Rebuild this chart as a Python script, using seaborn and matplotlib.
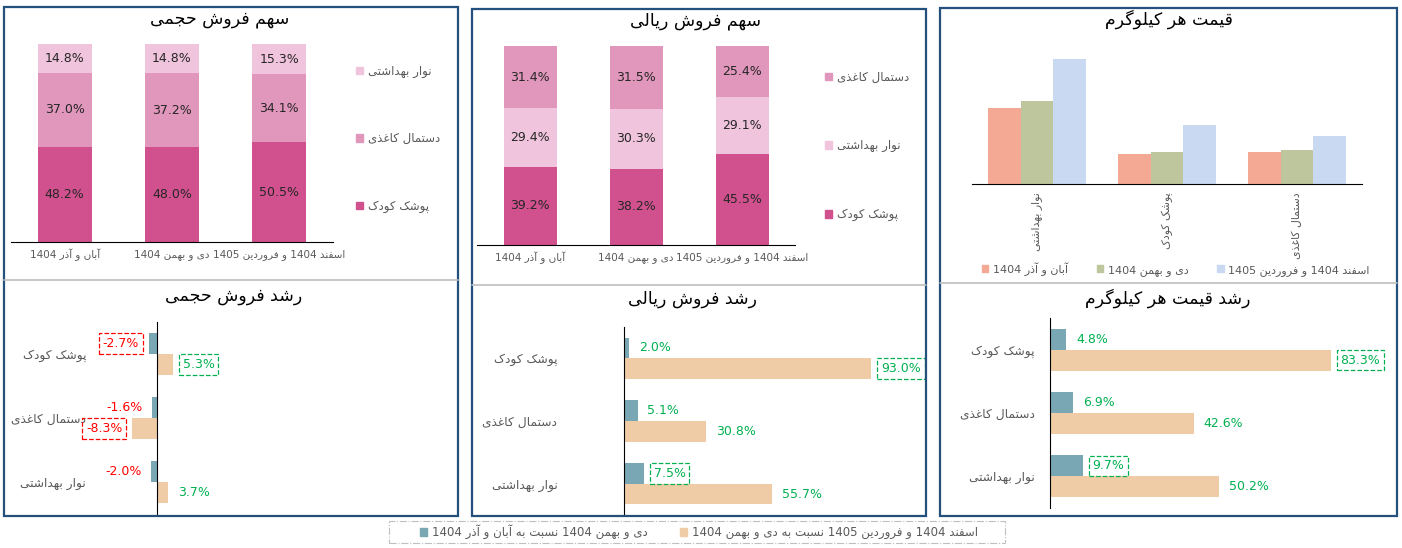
"""Sales dashboard: share, price and growth charts for three hygiene products."""

import re

import matplotlib

matplotlib.use("Agg")

import matplotlib.pyplot as plt
import pandas as pd
import seaborn as sns
from matplotlib.lines import Line2D
from matplotlib.patches import Patch, Rectangle

W, H = 1402, 548

PERIODS = ["آبان و آذر 1404", "دی و بهمن 1404", "اسفند 1404 و فروردین 1405"]
PRODUCTS = ["پوشک کودک", "دستمال کاغذی", "نوار بهداشتی"]
PRICE_PRODUCTS = ["نوار بهداشتی", "پوشک کودک", "دستمال کاغذی"]
GROWTH_SERIES = [
    "دی و بهمن 1404 نسبت به آبان و آذر 1404",
    "اسفند 1404 و فروردین 1405 نسبت به دی و بهمن 1404",
]

# سهم فروش حجمی (%)
vol_share_diaper = [48.2, 48.0, 50.5]
vol_share_tissue = [37.0, 37.2, 34.1]
vol_share_pad = [14.8, 14.8, 15.3]

# سهم فروش ریالی (%)
val_share_diaper = [39.2, 38.2, 45.5]
val_share_pad = [29.4, 30.3, 29.1]
val_share_tissue = [31.4, 31.5, 25.4]

# قیمت هر کیلوگرم (no scale shown, relative heights)
price_period1 = [76.0, 30.5, 31.6]
price_period2 = [83.4, 32.0, 33.8]
price_period3 = [125.3, 58.6, 48.2]

# رشد (%)
vol_growth_1 = [-2.7, -1.6, -2.0]
vol_growth_2 = [5.3, -8.3, 3.7]
val_growth_1 = [2.0, 5.1, 7.5]
val_growth_2 = [93.0, 30.8, 55.7]
price_growth_1 = [4.8, 6.9, 9.7]
price_growth_2 = [83.3, 42.6, 50.2]

# highlighted labels (dashed box)
vol_box_1 = [True, False, False]
vol_box_2 = [True, True, False]
val_box_1 = [False, False, True]
val_box_2 = [True, False, False]
price_box_1 = [False, False, True]
price_box_2 = [True, False, False]

PINK_DARK = "#D0518D"
PINK_MID = "#E196BB"
PINK_LIGHT = "#F0C4DC"
SALMON = "#F3A994"
OLIVE = "#BDC69C"
SKY = "#C9D9F1"
TEAL = "#79A7B3"
PEACH = "#EFCBA6"
GREEN = "#00B050"
RED = "#FF0000"
GRAY_TEXT = "#595959"
DARK_TEXT = "#262626"
FRAME_BLUE = "#24507E"
FRAME_GRAY = "#BFBFBF"

# --- minimal Persian shaping (matplotlib has no bidi / joining) ---
FOUR = {
    "ب": 0xFE8F, "ت": 0xFE95, "ث": 0xFE99, "ج": 0xFE9D, "ح": 0xFEA1, "خ": 0xFEA5,
    "س": 0xFEB1, "ش": 0xFEB5, "ص": 0xFEB9, "ض": 0xFEBD, "ط": 0xFEC1, "ظ": 0xFEC5,
    "ع": 0xFEC9, "غ": 0xFECD, "ف": 0xFED1, "ق": 0xFED5, "ل": 0xFEDD, "م": 0xFEE1,
    "ن": 0xFEE5, "ه": 0xFEE9, "ي": 0xFEF1, "پ": 0xFB56, "چ": 0xFB7A, "ک": 0xFB8E,
    "گ": 0xFB92, "ی": 0xFBFC,
}
TWO = {
    "ا": 0xFE8D, "آ": 0xFE81, "د": 0xFEA9, "ذ": 0xFEAB, "ر": 0xFEAD, "ز": 0xFEAF,
    "و": 0xFEED, "ژ": 0xFB8A,
}


def shape_run(run):
    out = []
    for i, ch in enumerate(run):
        base = FOUR.get(ch, TWO.get(ch))
        if base is None:
            out.append(ch)
            continue
        prev = run[i - 1] if i > 0 else ""
        nxt = run[i + 1] if i + 1 < len(run) else ""
        join_prev = prev in FOUR
        join_next = ch in FOUR and (nxt in FOUR or nxt in TWO)
        if join_prev and join_next:
            code = base + 3
        elif join_prev:
            code = base + 1
        elif join_next:
            code = base + 2
        else:
            code = base
        out.append(chr(code))
    return "".join(out)


def fa(text):
    runs = re.findall(r"[0-9.%\-]+|[^0-9.%\-]+", text)
    visual = [r if r[0].isdigit() else shape_run(r)[::-1] for r in runs]
    return "".join(visual[::-1])


def add_axes_px(fig, x0, y0, x1, y1):
    ax = fig.add_axes([x0 / W, 1 - y1 / H, (x1 - x0) / W, (y1 - y0) / H])
    ax.patch.set_visible(False)
    return ax


def boundary_ticks(axis, n):
    axis.set_ticks([i - 0.5 for i in range(n + 1)], minor=True)


def draw_share_chart(fig, box, layers, legend_xy, spacing):
    ax = add_axes_px(fig, *box)
    labels = [fa(p) for p in PERIODS]
    bottom = [0.0] * len(labels)
    handles = []
    for name, values, color in layers:
        sns.barplot(x=labels, y=values, bottom=bottom, color=color, width=0.5,
                    saturation=1, errorbar=None, linewidth=0, ax=ax)
        ax.bar_label(ax.containers[-1], labels=[f"{v:.1f}%" for v in values],
                     label_type="center", fontsize=9, color=DARK_TEXT)
        bottom = [b + v for b, v in zip(bottom, values)]
        handles.append(Patch(color=color, label=fa(name)))
    ax.set_ylim(0, 100)
    ax.set_xlim(-0.5, 2.5)
    ax.set_xlabel("")
    ax.set_ylabel("")
    ax.set_yticks([])
    for side in ["top", "right", "left"]:
        ax.spines[side].set_visible(False)
    ax.spines["bottom"].set_color("black")
    ax.spines["bottom"].set_linewidth(0.8)
    boundary_ticks(ax.xaxis, 3)
    ax.tick_params(axis="x", which="major", length=0, pad=5, labelsize=7.5, labelcolor=GRAY_TEXT)
    ax.tick_params(axis="x", which="minor", length=4, width=0.8, color="black")
    ax.legend(handles=handles[::-1], loc="upper left", bbox_to_anchor=legend_xy,
              bbox_transform=fig.transFigure, frameon=False, fontsize=8.5,
              labelcolor=GRAY_TEXT, handlelength=0.6, handleheight=0.6,
              handletextpad=0.4, labelspacing=spacing, borderpad=0)
    return ax


def draw_price_chart(fig, box):
    ax = add_axes_px(fig, *box)
    df = pd.DataFrame({
        "product": [fa(p) for p in PRICE_PRODUCTS] * 3,
        "price": price_period1 + price_period2 + price_period3,
        "period": [fa(p) for p in PERIODS for _ in PRICE_PRODUCTS],
    })
    sns.barplot(data=df, x="product", y="price", hue="period",
                palette=[SALMON, OLIVE, SKY], width=0.75, saturation=1,
                errorbar=None, legend=False, linewidth=0, ax=ax)
    ax.set_ylim(0, 140)
    ax.set_xlim(-0.5, 2.5)
    ax.set_xlabel("")
    ax.set_ylabel("")
    ax.set_yticks([])
    for side in ["top", "right", "left"]:
        ax.spines[side].set_visible(False)
    ax.spines["bottom"].set_color("black")
    ax.spines["bottom"].set_linewidth(0.8)
    boundary_ticks(ax.xaxis, 3)
    ax.tick_params(axis="x", which="major", length=0, pad=6, labelsize=7.8,
                   labelcolor=GRAY_TEXT, labelrotation=90)
    ax.tick_params(axis="x", which="minor", length=4, width=0.8, color="black")
    handles = [Patch(color=c, label=fa(p)) for c, p in zip([SALMON, OLIVE, SKY], PERIODS)]
    ax.legend(handles=handles, loc="center left", bbox_to_anchor=(976 / W, 1 - 269 / H),
              bbox_transform=fig.transFigure, ncol=3, frameon=False, fontsize=8,
              labelcolor=GRAY_TEXT, handlelength=0.6, handleheight=0.6,
              handletextpad=0.4, columnspacing=2.6, borderpad=0)
    return ax


def draw_growth_chart(fig, box, zero_px, px_per_pct, label_pad, s1, s2, b1, b2):
    x0, y0, x1, y1 = box
    ax = add_axes_px(fig, x0, y0, x1, y1)
    df = pd.DataFrame({
        "product": [fa(p) for p in PRODUCTS] * 2,
        "growth": s1 + s2,
        "series": [fa(GROWTH_SERIES[0])] * 3 + [fa(GROWTH_SERIES[1])] * 3,
    })
    sns.barplot(data=df, x="growth", y="product", hue="series", orient="h",
                palette=[TEAL, PEACH], width=0.66, saturation=1, errorbar=None,
                legend=False, linewidth=0, ax=ax)
    ax.set_xlim((x0 - zero_px) / px_per_pct, (x1 - zero_px) / px_per_pct)
    ax.set_ylim(2.5, -0.5)
    for cont, vals, flags in zip(ax.containers, [s1, s2], [b1, b2]):
        texts = ax.bar_label(cont, labels=[f"{v:.1f}%" for v in vals], padding=7, fontsize=9)
        for t, v, flag in zip(texts, vals, flags):
            color = GREEN if v >= 0 else RED
            t.set_color(color)
            if flag:
                t.set_bbox(dict(boxstyle="square,pad=0.3", fc="none", ec=color,
                                ls="--", lw=0.9))
    ax.set_xlabel("")
    ax.set_ylabel("")
    ax.set_xticks([])
    for side in ["top", "right", "bottom"]:
        ax.spines[side].set_visible(False)
    ax.spines["left"].set_position(("data", 0))
    ax.spines["left"].set_color("black")
    ax.spines["left"].set_linewidth(0.8)
    boundary_ticks(ax.yaxis, 3)
    ax.tick_params(axis="y", which="major", length=0, pad=label_pad, labelsize=8.8,
                   labelcolor=GRAY_TEXT)
    ax.tick_params(axis="y", which="minor", length=4, width=0.8, color="black")
    return ax


sns.set_style("white")
plt.rcParams["font.family"] = ["DejaVu Sans"]

fig = plt.figure(figsize=(W / 100, H / 100), dpi=100)

# panel frames
for x0, y0, x1, y1, ysep in [(4, 7, 458, 516, 280), (472, 9, 926, 516, 285),
                             (940, 8, 1397, 516, 283)]:
    fig.add_artist(Line2D([x0 / W, x1 / W], [1 - ysep / H] * 2, color=FRAME_GRAY, lw=1.2))
    fig.add_artist(Rectangle((x0 / W, 1 - y1 / H), (x1 - x0) / W, (y1 - y0) / H,
                             fill=False, ec=FRAME_BLUE, lw=1.6))

draw_share_chart(
    fig, (11, 44, 333, 242),
    [("پوشک کودک", vol_share_diaper, PINK_DARK),
     ("دستمال کاغذی", vol_share_tissue, PINK_MID),
     ("نوار بهداشتی", vol_share_pad, PINK_LIGHT)],
    (350 / W, 1 - 59 / H), 4.6,
)
draw_share_chart(
    fig, (477, 46, 795, 245),
    [("پوشک کودک", val_share_diaper, PINK_DARK),
     ("نوار بهداشتی", val_share_pad, PINK_LIGHT),
     ("دستمال کاغذی", val_share_tissue, PINK_MID)],
    (819 / W, 1 - 65 / H), 4.7,
)
draw_price_chart(fig, (972, 44, 1362, 184))

draw_growth_chart(fig, (100, 322, 445, 514), 157, 3.0, 51,
                  vol_growth_1, vol_growth_2, vol_box_1, vol_box_2)
draw_growth_chart(fig, (520, 327, 900, 515), 624, 2.66, 48,
                  val_growth_1, val_growth_2, val_box_1, val_box_2)
draw_growth_chart(fig, (1040, 318, 1390, 508), 1050, 3.37, 11,
                  price_growth_1, price_growth_2, price_box_1, price_box_2)

titles = [
    ("سهم فروش حجمی", 220, 19), ("سهم فروش ریالی", 696, 21), ("قیمت هر کیلوگرم", 1169, 19),
    ("رشد فروش حجمی", 234, 296), ("رشد فروش ریالی", 693, 299), ("رشد قیمت هر کیلوگرم", 1168, 298),
]
for text, x, y in titles:
    fig.text(x / W, 1 - y / H, fa(text), ha="center", va="center", fontsize=12.5, color="black")

legend_handles = [Patch(color=TEAL, label=fa(GROWTH_SERIES[0])),
                  Patch(color=PEACH, label=fa(GROWTH_SERIES[1]))]
fig.legend(handles=legend_handles, loc="center", bbox_to_anchor=(699 / W, 1 - 532 / H),
           ncol=2, frameon=False, fontsize=8.5, labelcolor=GRAY_TEXT,
           handlelength=0.6, handleheight=0.6, handletextpad=0.4, columnspacing=2.8)
legend_box = Rectangle((389 / W, 1 - 543 / H), (1005 - 389) / W, 22 / H, fill=False,
                       ec=FRAME_GRAY, lw=0.8, ls="-.")
fig.add_artist(legend_box)

fig.savefig("out.png", dpi=100)
